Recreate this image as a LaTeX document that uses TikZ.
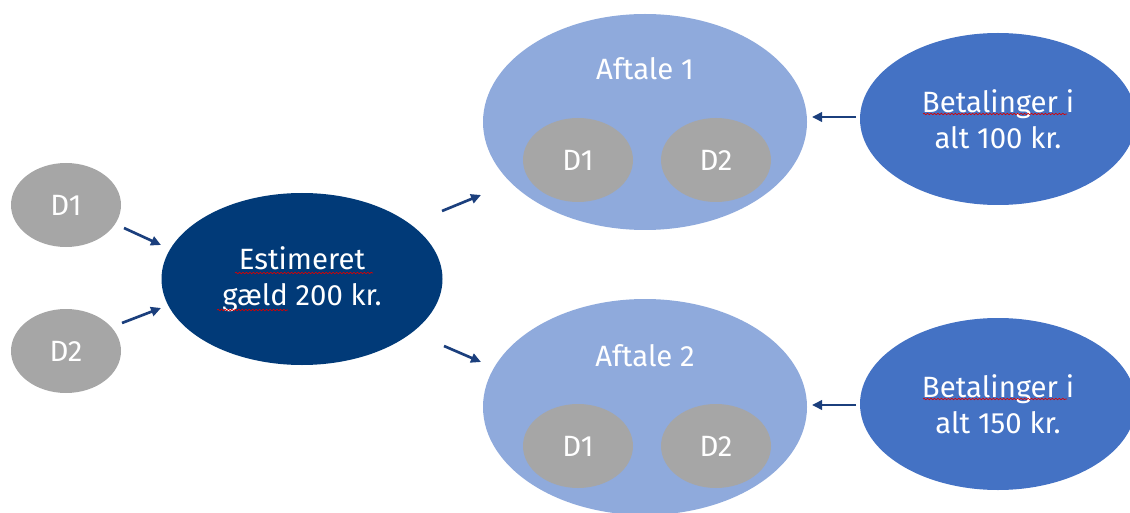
\documentclass[tikz,border=0pt]{standalone}
\usepackage{fontspec}
\setmainfont{Fira Sans}
\usetikzlibrary{shapes.geometric,arrows.meta,decorations.pathmorphing}
\definecolor{dgray}{HTML}{A6A6A6}
\definecolor{navy}{HTML}{013A78}
\definecolor{lblue}{HTML}{8FAADC}
\definecolor{mblue}{HTML}{4472C4}
\definecolor{arrc}{HTML}{1B3F7D}
\begin{document}
\begin{tikzpicture}[x=0.75pt,y=-0.75pt,
  ell/.style={ellipse, inner sep=0pt, draw=none, text=white, align=center,
    font=\fontsize{22}{27}\selectfont},
  dnode/.style={ell, fill=dgray, minimum width=82.5pt, minimum height=63pt},
  estnode/.style={ell, fill=navy, minimum width=210.75pt, minimum height=129pt},
  aftnode/.style={ell, fill=lblue, minimum width=243pt, minimum height=162pt},
  betnode/.style={ell, fill=mblue, minimum width=207pt, minimum height=129pt},
  lbl/.style={text=white, inner sep=0pt, font=\fontsize{22}{27}\selectfont},
  arr/.style={draw=arrc, line width=2pt, -{Triangle[length=7.5pt,width=7pt]}},
  squig/.style={draw=red!85!black, line width=0.5pt, decorate,
    decoration={snake, amplitude=0.55pt, segment length=2.6pt}}
]
\useasboundingbox (0,0) rectangle (1130,513);

% left nodes
\node[dnode] (d1) at (66,205) {D1};
\node[dnode] (d2) at (66,351) {D2};
\node[estnode] (est) at (302,279) {Estimeret\\gæld 200 kr.};

% agreement 1
\node[aftnode] (a1) at (645,122) {};
\node[lbl] (a1t) at (645,69) {Aftale 1};
\node[dnode] (a1d1) at (578,160) {D1};
\node[dnode] (a1d2) at (716,160) {D2};

% agreement 2
\node[aftnode] (a2) at (645,407) {};
\node[lbl] (a2t) at (645,356) {Aftale 2};
\node[dnode] (a2d1) at (578,446) {D1};
\node[dnode] (a2d2) at (716,446) {D2};

% payments
\node[betnode] (b1) at (998,119) {Betalinger i\\alt 100 kr.};
\node[betnode] (b2) at (998,404) {Betalinger i\\alt 150 kr.};

% arrow end points (floating arrows)
\coordinate (p1s) at (124,228); \coordinate (p1e) at (161,245);
\coordinate (p2s) at (122,323); \coordinate (p2e) at (161,308);
\coordinate (p3s) at (442,211); \coordinate (p3e) at (481,195);
\coordinate (p4s) at (444,346); \coordinate (p4e) at (481,362);
\coordinate (p5s) at (856,117); \coordinate (p5e) at (812,117);
\coordinate (p6s) at (856,405); \coordinate (p6e) at (812,405);

\draw[arr] (p1s) -- (p1e);
\draw[arr] (p2s) -- (p2e);
\draw[arr] (p3s) -- (p3e);
\draw[arr] (p4s) -- (p4e);
\draw[arr] (p5s) -- (p5e);
\draw[arr] (p6s) -- (p6e);

% spell-check squiggles
\draw[squig] (235,273) -- (373,273);
\draw[squig] (217,310) -- (288,310);
\draw[squig] (923,114) -- (1067,114);
\draw[squig] (923,399) -- (1067,399);
\end{tikzpicture}
\end{document}
